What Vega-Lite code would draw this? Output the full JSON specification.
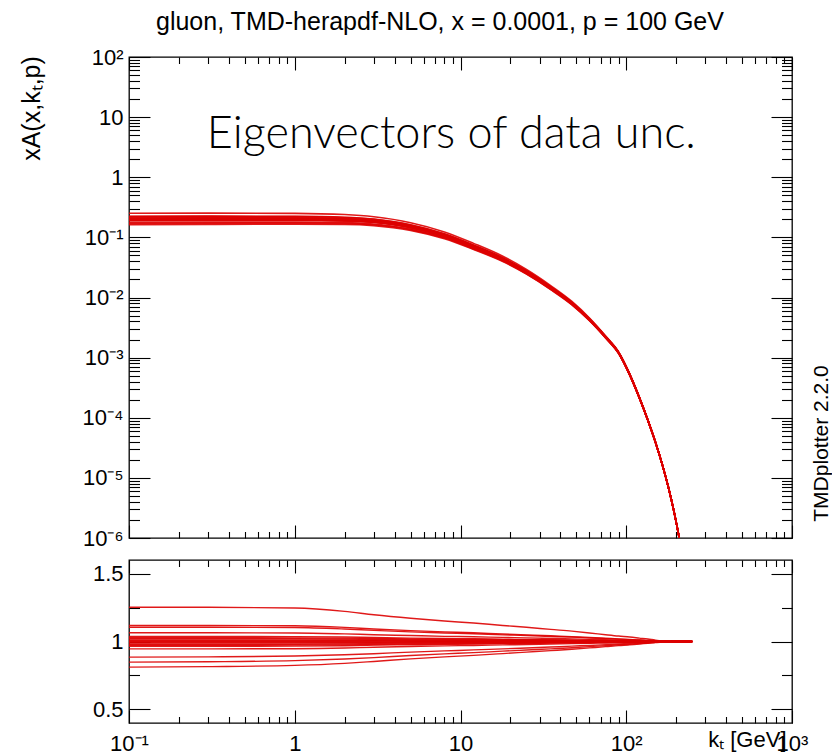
{
"$schema": "https://vega.github.io/schema/vega-lite/v6.json",
"background": "white",
"padding": {"left": 18, "top": 10, "right": 0, "bottom": 0},
"title": {"text": "gluon, TMD-herapdf-NLO, x = 0.0001, p = 100 GeV", "anchor": "start", "frame": "group", "dx": 27, "font": "Liberation Sans", "fontSize": 25, "fontWeight": "normal", "color": "#000", "offset": 10},
"datasets": {"d": [
{"m":"A","k":0.1,"v":0.2517,"r":1.252},{"m":"B","k":0.1,"v":0.2247,"r":1.118},{"m":"C","k":0.1,"v":0.2221,"r":1.105},{"m":"D","k":0.1,"v":0.2139,"r":1.064},{"m":"E","k":0.1,"v":0.2084,"r":1.037},{"m":"F","k":0.1,"v":0.2066,"r":1.028},{"m":"G","k":0.1,"v":0.205,"r":1.02},{"m":"H","k":0.1,"v":0.2034,"r":1.012},{"m":"I","k":0.1,"v":0.2022,"r":1.006},{"m":"Z","k":0.1,"v":0.201,"r":1},{"m":"J","k":0.1,"v":0.1998,"r":0.994},{"m":"K","k":0.1,"v":0.1986,"r":0.988},{"m":"L","k":0.1,"v":0.197,"r":0.98},{"m":"M","k":0.1,"v":0.1954,"r":0.972},{"m":"N","k":0.1,"v":0.194,"r":0.965},{"m":"O","k":0.1,"v":0.1901,"r":0.946},{"m":"P","k":0.1,"v":0.1779,"r":0.885},{"m":"Q","k":0.1,"v":0.1704,"r":0.848},{"m":"R","k":0.1,"v":0.163,"r":0.811},
{"m":"A","k":0.3,"v":0.2529,"r":1.252},{"m":"B","k":0.3,"v":0.2258,"r":1.118},{"m":"C","k":0.3,"v":0.2232,"r":1.105},{"m":"D","k":0.3,"v":0.2149,"r":1.064},{"m":"E","k":0.3,"v":0.2095,"r":1.037},{"m":"F","k":0.3,"v":0.2077,"r":1.028},{"m":"G","k":0.3,"v":0.206,"r":1.02},{"m":"H","k":0.3,"v":0.2044,"r":1.012},{"m":"I","k":0.3,"v":0.2032,"r":1.006},{"m":"Z","k":0.3,"v":0.202,"r":1},{"m":"J","k":0.3,"v":0.2008,"r":0.994},{"m":"K","k":0.3,"v":0.1996,"r":0.988},{"m":"L","k":0.3,"v":0.198,"r":0.98},{"m":"M","k":0.3,"v":0.1963,"r":0.972},{"m":"N","k":0.3,"v":0.1949,"r":0.965},{"m":"O","k":0.3,"v":0.1911,"r":0.946},{"m":"P","k":0.3,"v":0.1792,"r":0.887},{"m":"Q","k":0.3,"v":0.1719,"r":0.851},{"m":"R","k":0.3,"v":0.1646,"r":0.815},
{"m":"A","k":1,"v":0.2506,"r":1.247},{"m":"B","k":1,"v":0.2243,"r":1.116},{"m":"C","k":1,"v":0.2217,"r":1.103},{"m":"D","k":1,"v":0.2137,"r":1.063},{"m":"E","k":1,"v":0.2082,"r":1.036},{"m":"F","k":1,"v":0.2064,"r":1.027},{"m":"G","k":1,"v":0.205,"r":1.02},{"m":"H","k":1,"v":0.2034,"r":1.012},{"m":"I","k":1,"v":0.2022,"r":1.006},{"m":"Z","k":1,"v":0.201,"r":1},{"m":"J","k":1,"v":0.1998,"r":0.994},{"m":"K","k":1,"v":0.1986,"r":0.988},{"m":"L","k":1,"v":0.197,"r":0.98},{"m":"M","k":1,"v":0.1956,"r":0.973},{"m":"N","k":1,"v":0.1942,"r":0.966},{"m":"O","k":1,"v":0.1903,"r":0.947},{"m":"P","k":1,"v":0.1795,"r":0.893},{"m":"Q","k":1,"v":0.1727,"r":0.859},{"m":"R","k":1,"v":0.1656,"r":0.824},
{"m":"A","k":2,"v":0.2395,"r":1.222},{"m":"B","k":2,"v":0.2164,"r":1.104},{"m":"C","k":2,"v":0.214,"r":1.092},{"m":"D","k":2,"v":0.207,"r":1.056},{"m":"E","k":2,"v":0.2025,"r":1.033},{"m":"F","k":2,"v":0.2009,"r":1.025},{"m":"G","k":2,"v":0.1995,"r":1.018},{"m":"H","k":2,"v":0.1982,"r":1.011},{"m":"I","k":2,"v":0.197,"r":1.005},{"m":"Z","k":2,"v":0.196,"r":1},{"m":"J","k":2,"v":0.195,"r":0.995},{"m":"K","k":2,"v":0.1938,"r":0.989},{"m":"L","k":2,"v":0.1925,"r":0.982},{"m":"M","k":2,"v":0.1911,"r":0.975},{"m":"N","k":2,"v":0.1899,"r":0.969},{"m":"O","k":2,"v":0.1866,"r":0.952},{"m":"P","k":2,"v":0.1768,"r":0.902},{"m":"Q","k":2,"v":0.1707,"r":0.871},{"m":"R","k":2,"v":0.1644,"r":0.839},
{"m":"A","k":3,"v":0.2202,"r":1.197},{"m":"B","k":3,"v":0.2009,"r":1.092},{"m":"C","k":3,"v":0.1991,"r":1.082},{"m":"D","k":3,"v":0.1932,"r":1.05},{"m":"E","k":3,"v":0.1893,"r":1.029},{"m":"F","k":3,"v":0.188,"r":1.022},{"m":"G","k":3,"v":0.1869,"r":1.016},{"m":"H","k":3,"v":0.1857,"r":1.009},{"m":"I","k":3,"v":0.1849,"r":1.005},{"m":"Z","k":3,"v":0.184,"r":1},{"m":"J","k":3,"v":0.1831,"r":0.995},{"m":"K","k":3,"v":0.1823,"r":0.991},{"m":"L","k":3,"v":0.1811,"r":0.984},{"m":"M","k":3,"v":0.18,"r":0.978},{"m":"N","k":3,"v":0.179,"r":0.973},{"m":"O","k":3,"v":0.1763,"r":0.958},{"m":"P","k":3,"v":0.1674,"r":0.91},{"m":"Q","k":3,"v":0.1621,"r":0.881},{"m":"R","k":3,"v":0.157,"r":0.853},
{"m":"A","k":5,"v":0.1757,"r":1.171},{"m":"B","k":5,"v":0.162,"r":1.08},{"m":"C","k":5,"v":0.1607,"r":1.071},{"m":"D","k":5,"v":0.1566,"r":1.044},{"m":"E","k":5,"v":0.1538,"r":1.025},{"m":"F","k":5,"v":0.1529,"r":1.019},{"m":"G","k":5,"v":0.1521,"r":1.014},{"m":"H","k":5,"v":0.1512,"r":1.008},{"m":"I","k":5,"v":0.1506,"r":1.004},{"m":"Z","k":5,"v":0.15,"r":1},{"m":"J","k":5,"v":0.1494,"r":0.996},{"m":"K","k":5,"v":0.1488,"r":0.992},{"m":"L","k":5,"v":0.1479,"r":0.986},{"m":"M","k":5,"v":0.1472,"r":0.981},{"m":"N","k":5,"v":0.1464,"r":0.976},{"m":"O","k":5,"v":0.1445,"r":0.963},{"m":"P","k":5,"v":0.1383,"r":0.922},{"m":"Q","k":5,"v":0.1346,"r":0.897},{"m":"R","k":5,"v":0.1308,"r":0.872},
{"m":"A","k":8,"v":0.1232,"r":1.151},{"m":"B","k":8,"v":0.1146,"r":1.071},{"m":"C","k":8,"v":0.1137,"r":1.063},{"m":"D","k":8,"v":0.1111,"r":1.038},{"m":"E","k":8,"v":0.1094,"r":1.022},{"m":"F","k":8,"v":0.1088,"r":1.017},{"m":"G","k":8,"v":0.1083,"r":1.012},{"m":"H","k":8,"v":0.1077,"r":1.007},{"m":"I","k":8,"v":0.1074,"r":1.004},{"m":"Z","k":8,"v":0.107,"r":1},{"m":"J","k":8,"v":0.1066,"r":0.996},{"m":"K","k":8,"v":0.1063,"r":0.993},{"m":"L","k":8,"v":0.1057,"r":0.988},{"m":"M","k":8,"v":0.1052,"r":0.983},{"m":"N","k":8,"v":0.1048,"r":0.979},{"m":"O","k":8,"v":0.1036,"r":0.968},{"m":"P","k":8,"v":0.0996,"r":0.931},{"m":"Q","k":8,"v":0.0973,"r":0.909},{"m":"R","k":8,"v":0.0949,"r":0.887},
{"m":"A","k":12,"v":0.0795,"r":1.136},{"m":"B","k":12,"v":0.0745,"r":1.064},{"m":"C","k":12,"v":0.074,"r":1.057},{"m":"D","k":12,"v":0.0724,"r":1.035},{"m":"E","k":12,"v":0.0714,"r":1.02},{"m":"F","k":12,"v":0.0711,"r":1.015},{"m":"G","k":12,"v":0.0708,"r":1.011},{"m":"H","k":12,"v":0.0704,"r":1.006},{"m":"I","k":12,"v":0.0702,"r":1.003},{"m":"Z","k":12,"v":0.07,"r":1},{"m":"J","k":12,"v":0.0698,"r":0.997},{"m":"K","k":12,"v":0.0696,"r":0.994},{"m":"L","k":12,"v":0.0692,"r":0.989},{"m":"M","k":12,"v":0.069,"r":0.985},{"m":"N","k":12,"v":0.0687,"r":0.981},{"m":"O","k":12,"v":0.068,"r":0.971},{"m":"P","k":12,"v":0.0657,"r":0.938},{"m":"Q","k":12,"v":0.0643,"r":0.918},{"m":"R","k":12,"v":0.0629,"r":0.898},
{"m":"A","k":18,"v":0.0486,"r":1.118},{"m":"B","k":18,"v":0.0459,"r":1.055},{"m":"C","k":18,"v":0.0456,"r":1.049},{"m":"D","k":18,"v":0.0448,"r":1.03},{"m":"E","k":18,"v":0.0442,"r":1.017},{"m":"F","k":18,"v":0.0441,"r":1.013},{"m":"G","k":18,"v":0.0439,"r":1.009},{"m":"H","k":18,"v":0.0438,"r":1.006},{"m":"I","k":18,"v":0.0436,"r":1.003},{"m":"Z","k":18,"v":0.0435,"r":1},{"m":"J","k":18,"v":0.0434,"r":0.997},{"m":"K","k":18,"v":0.0432,"r":0.994},{"m":"L","k":18,"v":0.0431,"r":0.991},{"m":"M","k":18,"v":0.0429,"r":0.987},{"m":"N","k":18,"v":0.0428,"r":0.984},{"m":"O","k":18,"v":0.0424,"r":0.975},{"m":"P","k":18,"v":0.0412,"r":0.946},{"m":"Q","k":18,"v":0.0404,"r":0.929},{"m":"R","k":18,"v":0.0396,"r":0.911},
{"m":"A","k":25,"v":0.02928,"r":1.105},{"m":"B","k":25,"v":0.0278,"r":1.049},{"m":"C","k":25,"v":0.02767,"r":1.044},{"m":"D","k":25,"v":0.02722,"r":1.027},{"m":"E","k":25,"v":0.0269,"r":1.015},{"m":"F","k":25,"v":0.02682,"r":1.012},{"m":"G","k":25,"v":0.02671,"r":1.008},{"m":"H","k":25,"v":0.02663,"r":1.005},{"m":"I","k":25,"v":0.02655,"r":1.002},{"m":"Z","k":25,"v":0.0265,"r":1},{"m":"J","k":25,"v":0.02645,"r":0.998},{"m":"K","k":25,"v":0.02637,"r":0.995},{"m":"L","k":25,"v":0.02629,"r":0.992},{"m":"M","k":25,"v":0.02618,"r":0.988},{"m":"N","k":25,"v":0.0261,"r":0.985},{"m":"O","k":25,"v":0.02592,"r":0.978},{"m":"P","k":25,"v":0.02523,"r":0.952},{"m":"Q","k":25,"v":0.02483,"r":0.937},{"m":"R","k":25,"v":0.02443,"r":0.922},
{"m":"A","k":35,"v":0.01579,"r":1.089},{"m":"B","k":35,"v":0.01511,"r":1.042},{"m":"C","k":35,"v":0.01504,"r":1.037},{"m":"D","k":35,"v":0.01483,"r":1.023},{"m":"E","k":35,"v":0.01469,"r":1.013},{"m":"F","k":35,"v":0.01465,"r":1.01},{"m":"G","k":35,"v":0.0146,"r":1.007},{"m":"H","k":35,"v":0.01456,"r":1.004},{"m":"I","k":35,"v":0.01453,"r":1.002},{"m":"Z","k":35,"v":0.0145,"r":1},{"m":"J","k":35,"v":0.01447,"r":0.998},{"m":"K","k":35,"v":0.01444,"r":0.996},{"m":"L","k":35,"v":0.0144,"r":0.993},{"m":"M","k":35,"v":0.01436,"r":0.99},{"m":"N","k":35,"v":0.01433,"r":0.988},{"m":"O","k":35,"v":0.01422,"r":0.981},{"m":"P","k":35,"v":0.01391,"r":0.959},{"m":"Q","k":35,"v":0.01372,"r":0.946},{"m":"R","k":35,"v":0.01353,"r":0.933},
{"m":"A","k":47,"v":0.00861,"r":1.076},{"m":"B","k":47,"v":0.00828,"r":1.035},{"m":"C","k":47,"v":0.00826,"r":1.032},{"m":"D","k":47,"v":0.00815,"r":1.019},{"m":"E","k":47,"v":0.00809,"r":1.011},{"m":"F","k":47,"v":0.00806,"r":1.008},{"m":"G","k":47,"v":0.00805,"r":1.006},{"m":"H","k":47,"v":0.00803,"r":1.004},{"m":"I","k":47,"v":0.00802,"r":1.002},{"m":"Z","k":47,"v":0.008,"r":1},{"m":"J","k":47,"v":0.00798,"r":0.998},{"m":"K","k":47,"v":0.00797,"r":0.996},{"m":"L","k":47,"v":0.00795,"r":0.994},{"m":"M","k":47,"v":0.00794,"r":0.992},{"m":"N","k":47,"v":0.00792,"r":0.99},{"m":"O","k":47,"v":0.00787,"r":0.984},{"m":"P","k":47,"v":0.00773,"r":0.966},{"m":"Q","k":47,"v":0.00763,"r":0.954},{"m":"R","k":47,"v":0.00754,"r":0.943},
{"m":"A","k":60,"v":0.004571,"r":1.063},{"m":"B","k":60,"v":0.004429,"r":1.03},{"m":"C","k":60,"v":0.004412,"r":1.026},{"m":"D","k":60,"v":0.004369,"r":1.016},{"m":"E","k":60,"v":0.004339,"r":1.009},{"m":"F","k":60,"v":0.00433,"r":1.007},{"m":"G","k":60,"v":0.004322,"r":1.005},{"m":"H","k":60,"v":0.004313,"r":1.003},{"m":"I","k":60,"v":0.004309,"r":1.002},{"m":"Z","k":60,"v":0.0043,"r":1},{"m":"J","k":60,"v":0.004291,"r":0.998},{"m":"K","k":60,"v":0.004287,"r":0.997},{"m":"L","k":60,"v":0.004279,"r":0.995},{"m":"M","k":60,"v":0.00427,"r":0.993},{"m":"N","k":60,"v":0.004261,"r":0.991},{"m":"O","k":60,"v":0.004244,"r":0.987},{"m":"P","k":60,"v":0.004175,"r":0.971},{"m":"Q","k":60,"v":0.004137,"r":0.962},{"m":"R","k":60,"v":0.004098,"r":0.953},
{"m":"A","k":75,"v":0.00231,"r":1.05},{"m":"B","k":75,"v":0.002253,"r":1.024},{"m":"C","k":75,"v":0.002246,"r":1.021},{"m":"D","k":75,"v":0.002229,"r":1.013},{"m":"E","k":75,"v":0.002215,"r":1.007},{"m":"F","k":75,"v":0.002213,"r":1.006},{"m":"G","k":75,"v":0.002209,"r":1.004},{"m":"H","k":75,"v":0.002204,"r":1.002},{"m":"I","k":75,"v":0.002202,"r":1.001},{"m":"Z","k":75,"v":0.0022,"r":1},{"m":"J","k":75,"v":0.002198,"r":0.999},{"m":"K","k":75,"v":0.002196,"r":0.998},{"m":"L","k":75,"v":0.002191,"r":0.996},{"m":"M","k":75,"v":0.002187,"r":0.994},{"m":"N","k":75,"v":0.002185,"r":0.993},{"m":"O","k":75,"v":0.002176,"r":0.989},{"m":"P","k":75,"v":0.002149,"r":0.977},{"m":"Q","k":75,"v":0.002134,"r":0.97},{"m":"R","k":75,"v":0.002116,"r":0.962},
{"m":"A","k":90,"v":0.001248,"r":1.04},{"m":"B","k":90,"v":0.001223,"r":1.019},{"m":"C","k":90,"v":0.00122,"r":1.017},{"m":"D","k":90,"v":0.001212,"r":1.01},{"m":"E","k":90,"v":0.001207,"r":1.006},{"m":"F","k":90,"v":0.001205,"r":1.004},{"m":"G","k":90,"v":0.001204,"r":1.003},{"m":"H","k":90,"v":0.001202,"r":1.002},{"m":"I","k":90,"v":0.001201,"r":1.001},{"m":"Z","k":90,"v":0.0012,"r":1},{"m":"J","k":90,"v":0.001199,"r":0.999},{"m":"K","k":90,"v":0.001198,"r":0.998},{"m":"L","k":90,"v":0.001196,"r":0.997},{"m":"M","k":90,"v":0.001195,"r":0.996},{"m":"N","k":90,"v":0.001193,"r":0.994},{"m":"O","k":90,"v":0.001189,"r":0.991},{"m":"P","k":90,"v":0.001178,"r":0.982},{"m":"Q","k":90,"v":0.001171,"r":0.976},{"m":"R","k":90,"v":0.001164,"r":0.97},
{"m":"A","k":105,"v":0.000537,"r":1.033},{"m":"B","k":105,"v":0.000528,"r":1.015},{"m":"C","k":105,"v":0.000527,"r":1.014},{"m":"D","k":105,"v":0.000524,"r":1.008},{"m":"E","k":105,"v":0.0005226,"r":1.005},{"m":"F","k":105,"v":0.0005221,"r":1.004},{"m":"G","k":105,"v":0.0005216,"r":1.003},{"m":"H","k":105,"v":0.000521,"r":1.002},{"m":"I","k":105,"v":0.0005205,"r":1.001},{"m":"Z","k":105,"v":0.00052,"r":1},{"m":"J","k":105,"v":0.0005195,"r":0.999},{"m":"K","k":105,"v":0.000519,"r":0.998},{"m":"L","k":105,"v":0.0005184,"r":0.997},{"m":"M","k":105,"v":0.0005179,"r":0.996},{"m":"N","k":105,"v":0.0005174,"r":0.995},{"m":"O","k":105,"v":0.0005164,"r":0.993},{"m":"P","k":105,"v":0.0005122,"r":0.985},{"m":"Q","k":105,"v":0.0005096,"r":0.98},{"m":"R","k":105,"v":0.000507,"r":0.975},
{"m":"A","k":120,"v":0.0002204,"r":1.025},{"m":"B","k":120,"v":0.0002176,"r":1.012},{"m":"C","k":120,"v":0.0002174,"r":1.011},{"m":"D","k":120,"v":0.0002163,"r":1.006},{"m":"E","k":120,"v":0.0002159,"r":1.004},{"m":"F","k":120,"v":0.0002156,"r":1.003},{"m":"G","k":120,"v":0.0002154,"r":1.002},{"m":"H","k":120,"v":0.0002152,"r":1.001},{"m":"I","k":120,"v":0.0002152,"r":1.001},{"m":"Z","k":120,"v":0.000215,"r":1},{"m":"J","k":120,"v":0.0002148,"r":0.999},{"m":"K","k":120,"v":0.0002148,"r":0.999},{"m":"L","k":120,"v":0.0002146,"r":0.998},{"m":"M","k":120,"v":0.0002144,"r":0.997},{"m":"N","k":120,"v":0.0002144,"r":0.997},{"m":"O","k":120,"v":0.0002139,"r":0.995},{"m":"P","k":120,"v":0.0002126,"r":0.989},{"m":"Q","k":120,"v":0.0002118,"r":0.985},{"m":"R","k":120,"v":0.0002109,"r":0.981},
{"m":"A","k":135,"v":0.00009264,"r":1.018},{"m":"B","k":135,"v":0.00009173,"r":1.008},{"m":"C","k":135,"v":0.00009164,"r":1.007},{"m":"D","k":135,"v":0.00009136,"r":1.004},{"m":"E","k":135,"v":0.00009127,"r":1.003},{"m":"F","k":135,"v":0.00009118,"r":1.002},{"m":"G","k":135,"v":0.00009109,"r":1.001},{"m":"H","k":135,"v":0.00009109,"r":1.001},{"m":"I","k":135,"v":0.000091,"r":1},{"m":"Z","k":135,"v":0.000091,"r":1},{"m":"J","k":135,"v":0.000091,"r":1},{"m":"K","k":135,"v":0.00009091,"r":0.999},{"m":"L","k":135,"v":0.00009091,"r":0.999},{"m":"M","k":135,"v":0.00009082,"r":0.998},{"m":"N","k":135,"v":0.00009082,"r":0.998},{"m":"O","k":135,"v":0.00009064,"r":0.996},{"m":"P","k":135,"v":0.00009027,"r":0.992},{"m":"Q","k":135,"v":0.00009,"r":0.989},{"m":"R","k":135,"v":0.00008982,"r":0.987},
{"m":"A","k":150,"v":0.00003959,"r":1.01},{"m":"B","k":150,"v":0.0000394,"r":1.005},{"m":"C","k":150,"v":0.00003936,"r":1.004},{"m":"D","k":150,"v":0.00003932,"r":1.003},{"m":"E","k":150,"v":0.00003924,"r":1.001},{"m":"F","k":150,"v":0.00003924,"r":1.001},{"m":"G","k":150,"v":0.00003924,"r":1.001},{"m":"H","k":150,"v":0.0000392,"r":1},{"m":"I","k":150,"v":0.0000392,"r":1},{"m":"Z","k":150,"v":0.0000392,"r":1},{"m":"J","k":150,"v":0.0000392,"r":1},{"m":"K","k":150,"v":0.0000392,"r":1},{"m":"L","k":150,"v":0.00003916,"r":0.999},{"m":"M","k":150,"v":0.00003916,"r":0.999},{"m":"N","k":150,"v":0.00003916,"r":0.999},{"m":"O","k":150,"v":0.00003912,"r":0.998},{"m":"P","k":150,"v":0.000039,"r":0.995},{"m":"Q","k":150,"v":0.00003896,"r":0.994},{"m":"R","k":150,"v":0.00003889,"r":0.992},
{"m":"A","k":165,"v":0.00001668,"r":1.005},{"m":"B","k":165,"v":0.00001663,"r":1.002},{"m":"C","k":165,"v":0.00001663,"r":1.002},{"m":"D","k":165,"v":0.00001662,"r":1.001},{"m":"E","k":165,"v":0.00001662,"r":1.001},{"m":"F","k":165,"v":0.00001662,"r":1.001},{"m":"G","k":165,"v":0.0000166,"r":1},{"m":"H","k":165,"v":0.0000166,"r":1},{"m":"I","k":165,"v":0.0000166,"r":1},{"m":"Z","k":165,"v":0.0000166,"r":1},{"m":"J","k":165,"v":0.0000166,"r":1},{"m":"K","k":165,"v":0.0000166,"r":1},{"m":"L","k":165,"v":0.0000166,"r":1},{"m":"M","k":165,"v":0.00001658,"r":0.999},{"m":"N","k":165,"v":0.00001658,"r":0.999},{"m":"O","k":165,"v":0.00001658,"r":0.999},{"m":"P","k":165,"v":0.00001657,"r":0.998},{"m":"Q","k":165,"v":0.00001655,"r":0.997},{"m":"R","k":165,"v":0.00001653,"r":0.996},
{"m":"A","k":180,"v":0.0000068,"r":1.003},{"m":"B","k":180,"v":0.00000679,"r":1.001},{"m":"C","k":180,"v":0.00000679,"r":1.001},{"m":"D","k":180,"v":0.00000678,"r":1},{"m":"E","k":180,"v":0.00000678,"r":1},{"m":"F","k":180,"v":0.00000678,"r":1},{"m":"G","k":180,"v":0.00000678,"r":1},{"m":"H","k":180,"v":0.00000678,"r":1},{"m":"I","k":180,"v":0.00000678,"r":1},{"m":"Z","k":180,"v":0.00000678,"r":1},{"m":"J","k":180,"v":0.00000678,"r":1},{"m":"K","k":180,"v":0.00000678,"r":1},{"m":"L","k":180,"v":0.00000678,"r":1},{"m":"M","k":180,"v":0.00000678,"r":1},{"m":"N","k":180,"v":0.00000678,"r":1},{"m":"O","k":180,"v":0.00000678,"r":1},{"m":"P","k":180,"v":0.00000677,"r":0.999},{"m":"Q","k":180,"v":0.00000677,"r":0.998},{"m":"R","k":180,"v":0.00000677,"r":0.998},
{"m":"A","k":195,"v":0.00000259,"r":1},{"m":"B","k":195,"v":0.00000259,"r":1},{"m":"C","k":195,"v":0.00000259,"r":1},{"m":"D","k":195,"v":0.00000259,"r":1},{"m":"E","k":195,"v":0.00000259,"r":1},{"m":"F","k":195,"v":0.00000259,"r":1},{"m":"G","k":195,"v":0.00000259,"r":1},{"m":"H","k":195,"v":0.00000259,"r":1},{"m":"I","k":195,"v":0.00000259,"r":1},{"m":"Z","k":195,"v":0.00000259,"r":1},{"m":"J","k":195,"v":0.00000259,"r":1},{"m":"K","k":195,"v":0.00000259,"r":1},{"m":"L","k":195,"v":0.00000259,"r":1},{"m":"M","k":195,"v":0.00000259,"r":1},{"m":"N","k":195,"v":0.00000259,"r":1},{"m":"O","k":195,"v":0.00000259,"r":1},{"m":"P","k":195,"v":0.00000259,"r":1},{"m":"Q","k":195,"v":0.00000259,"r":1},{"m":"R","k":195,"v":0.00000259,"r":1},
{"m":"A","k":210,"v":0.00000092,"r":1},{"m":"B","k":210,"v":0.00000092,"r":1},{"m":"C","k":210,"v":0.00000092,"r":1},{"m":"D","k":210,"v":0.00000092,"r":1},{"m":"E","k":210,"v":0.00000092,"r":1},{"m":"F","k":210,"v":0.00000092,"r":1},{"m":"G","k":210,"v":0.00000092,"r":1},{"m":"H","k":210,"v":0.00000092,"r":1},{"m":"I","k":210,"v":0.00000092,"r":1},{"m":"Z","k":210,"v":0.00000092,"r":1},{"m":"J","k":210,"v":0.00000092,"r":1},{"m":"K","k":210,"v":0.00000092,"r":1},{"m":"L","k":210,"v":0.00000092,"r":1},{"m":"M","k":210,"v":0.00000092,"r":1},{"m":"N","k":210,"v":0.00000092,"r":1},{"m":"O","k":210,"v":0.00000092,"r":1},{"m":"P","k":210,"v":0.00000092,"r":1},{"m":"Q","k":210,"v":0.00000092,"r":1},{"m":"R","k":210,"v":0.00000092,"r":1},
{"m":"A","k":250,"v":0.000000047,"r":1},{"m":"B","k":250,"v":0.000000047,"r":1},{"m":"C","k":250,"v":0.000000047,"r":1},{"m":"D","k":250,"v":0.000000047,"r":1},{"m":"E","k":250,"v":0.000000047,"r":1},{"m":"F","k":250,"v":0.000000047,"r":1},{"m":"G","k":250,"v":0.000000047,"r":1},{"m":"H","k":250,"v":0.000000047,"r":1},{"m":"I","k":250,"v":0.000000047,"r":1},{"m":"Z","k":250,"v":0.000000047,"r":1},{"m":"J","k":250,"v":0.000000047,"r":1},{"m":"K","k":250,"v":0.000000047,"r":1},{"m":"L","k":250,"v":0.000000047,"r":1},{"m":"M","k":250,"v":0.000000047,"r":1},{"m":"N","k":250,"v":0.000000047,"r":1},{"m":"O","k":250,"v":0.000000047,"r":1},{"m":"P","k":250,"v":0.000000047,"r":1},{"m":"Q","k":250,"v":0.000000047,"r":1},{"m":"R","k":250,"v":0.000000047,"r":1}
]},
"data": {"name": "d"},
"spacing": 22,
"bounds": "flush",
"vconcat": [
{
"width": 663, "height": 481,
"layer": [
{"mark": {"type": "line", "color": "#dd0000", "strokeWidth": 1.6, "opacity": 0.9, "clip": true, "interpolate": "monotone"},
 "encoding": {
  "x": {"field": "k", "type": "quantitative", "scale": {"type": "log", "domain": [0.1, 1000], "nice": false},
   "axis": {"orient": "bottom", "values": [0.1,0.2,0.3,0.4,0.5,0.6,0.7,0.8,0.9,1,2,3,4,5,6,7,8,9,10,20,30,40,50,60,70,80,90,100,200,300,400,500,600,700,800,900,1000], "labels": false, "title": null,
    "tickSize": {"condition": {"test": "abs(log(datum.value)/LN10 - round(log(datum.value)/LN10)) < 0.01", "value": -13}, "value": -6.5}}},
  "y": {"field": "v", "type": "quantitative", "scale": {"type": "log", "domain": [0.000001, 100], "nice": false},
   "axis": {"orient": "left", "values": [0.000001,0.000002,0.000003,0.000004,0.000005,0.000006,0.000007,0.000008,0.000009,0.00001,0.00002,0.00003,0.00004,0.00005,0.00006,0.00007,0.00008,0.00009,0.0001,0.0002,0.0003,0.0004,0.0005,0.0006,0.0007,0.0008,0.0009,0.001,0.002,0.003,0.004,0.005,0.006,0.007,0.008,0.009,0.01,0.02,0.03,0.04,0.05,0.06,0.07,0.08,0.09,0.1,0.2,0.3,0.4,0.5,0.6,0.7,0.8,0.9,1,2,3,4,5,6,7,8,9,10,20,30,40,50,60,70,80,90,100],
    "labelExpr": "abs(log(datum.value)/LN10 - round(log(datum.value)/LN10)) > 0.01 ? '' : ['10⁻⁶','10⁻⁵','10⁻⁴','10⁻³','10⁻²','10⁻¹','1','10','10²','10³'][round(log(datum.value)/LN10)+6]",
    "labelPadding": 27,
    "tickSize": {"condition": {"test": "abs(log(datum.value)/LN10 - round(log(datum.value)/LN10)) < 0.01", "value": -21}, "value": -10.5},
    "title": "xA(x,kₜ,p)", "titleFontSize": 25, "titleAngle": 270, "titleX": -90, "titleY": 51, "titleAlign": "center", "titleBaseline": "alphabetic"}},
  "detail": {"field": "m"}
 }},
{"mark": {"type": "line", "opacity": 0, "clip": true},
 "encoding": {
  "x": {"field": "k", "type": "quantitative",
   "axis": {"orient": "top", "values": [0.1,0.2,0.3,0.4,0.5,0.6,0.7,0.8,0.9,1,2,3,4,5,6,7,8,9,10,20,30,40,50,60,70,80,90,100,200,300,400,500,600,700,800,900,1000], "labels": false, "title": null,
    "tickSize": {"condition": {"test": "abs(log(datum.value)/LN10 - round(log(datum.value)/LN10)) < 0.01", "value": -13}, "value": -6.5}}},
  "y": {"field": "v", "type": "quantitative",
   "axis": {"orient": "right", "values": [0.000001,0.000002,0.000003,0.000004,0.000005,0.000006,0.000007,0.000008,0.000009,0.00001,0.00002,0.00003,0.00004,0.00005,0.00006,0.00007,0.00008,0.00009,0.0001,0.0002,0.0003,0.0004,0.0005,0.0006,0.0007,0.0008,0.0009,0.001,0.002,0.003,0.004,0.005,0.006,0.007,0.008,0.009,0.01,0.02,0.03,0.04,0.05,0.06,0.07,0.08,0.09,0.1,0.2,0.3,0.4,0.5,0.6,0.7,0.8,0.9,1,2,3,4,5,6,7,8,9,10,20,30,40,50,60,70,80,90,100], "labels": false,
    "tickSize": {"condition": {"test": "abs(log(datum.value)/LN10 - round(log(datum.value)/LN10)) < 0.01", "value": -21}, "value": -10.5},
    "title": "TMDplotter 2.2.0", "titleFontSize": 21, "titleAngle": 270, "titleX": 35, "titleY": 386, "titleAlign": "center", "titleBaseline": "alphabetic"}},
  "detail": {"field": "m"}
 }},
{"data": {"values": [{}]},
 "mark": {"type": "text", "text": "Eigenvectors of data unc.", "font": "Lato", "fontWeight": 300, "fontSize": 45, "align": "left", "baseline": "alphabetic", "color": "#000"},
 "encoding": {"x": {"datum": 0.295, "type": "quantitative", "axis": null}, "y": {"datum": 3.07, "type": "quantitative", "axis": null}}}
],
"resolve": {"axis": {"x": "independent", "y": "independent"}}
},
{
"width": 663, "height": 163,
"layer": [
{"mark": {"type": "line", "color": "#dd0000", "strokeWidth": 1.4, "opacity": 0.9, "clip": true, "interpolate": "monotone"},
 "encoding": {
  "x": {"field": "k", "type": "quantitative", "scale": {"type": "log", "domain": [0.1, 1000], "nice": false},
   "axis": {"orient": "bottom", "values": [0.1,0.2,0.3,0.4,0.5,0.6,0.7,0.8,0.9,1,2,3,4,5,6,7,8,9,10,20,30,40,50,60,70,80,90,100,200,300,400,500,600,700,800,900,1000],
    "labelExpr": "abs(log(datum.value)/LN10 - round(log(datum.value)/LN10)) > 0.01 ? '' : ['10⁻⁶','10⁻⁵','10⁻⁴','10⁻³','10⁻²','10⁻¹','1','10','10²','10³'][round(log(datum.value)/LN10)+6]",
    "labelPadding": 23,
    "tickSize": {"condition": {"test": "abs(log(datum.value)/LN10 - round(log(datum.value)/LN10)) < 0.01", "value": -13}, "value": -6.5},
    "title": "kₜ [GeV]", "titleFontSize": 22, "titleAnchor": "end", "titleAlign": "right", "titleX": 657, "titleY": 23, "titleBaseline": "alphabetic"}},
  "y": {"field": "r", "type": "quantitative", "scale": {"domain": [0.4, 1.6], "nice": false, "zero": false},
   "axis": {"orient": "left", "values": [0.5,0.75,1,1.25,1.5],
    "labelExpr": "datum.value == 1 ? '1' : (datum.value == 0.5 ? '0.5' : (datum.value == 1.5 ? '1.5' : ''))",
    "labelPadding": 27,
    "tickSize": {"condition": {"test": "datum.value == 0.5 || datum.value == 1 || datum.value == 1.5", "value": -21}, "value": -10.5},
    "title": null}},
  "detail": {"field": "m"}
 }},
{"mark": {"type": "line", "opacity": 0, "clip": true},
 "encoding": {
  "x": {"field": "k", "type": "quantitative",
   "axis": {"orient": "top", "values": [0.1,0.2,0.3,0.4,0.5,0.6,0.7,0.8,0.9,1,2,3,4,5,6,7,8,9,10,20,30,40,50,60,70,80,90,100,200,300,400,500,600,700,800,900,1000], "labels": false, "title": null,
    "tickSize": {"condition": {"test": "abs(log(datum.value)/LN10 - round(log(datum.value)/LN10)) < 0.01", "value": -13}, "value": -6.5}}},
  "y": {"field": "r", "type": "quantitative",
   "axis": {"orient": "right", "values": [0.5,0.75,1,1.25,1.5], "labels": false, "title": null,
    "tickSize": {"condition": {"test": "datum.value == 0.5 || datum.value == 1 || datum.value == 1.5", "value": -21}, "value": -10.5}}},
  "detail": {"field": "m"}
 }}
],
"resolve": {"axis": {"x": "independent", "y": "independent"}}
}
],
"config": {
 "font": "Liberation Sans",
 "view": {"stroke": "#000", "strokeWidth": 1.3},
 "axis": {"domain": false, "grid": false, "tickColor": "#000", "tickWidth": 1.1, "labelFont": "Liberation Sans", "labelFontSize": 22, "labelColor": "#000", "labelOverlap": false, "labelFlush": false, "zindex": 1, "titleFont": "Liberation Sans", "titleFontWeight": "normal", "titleColor": "#000"}
}
}
